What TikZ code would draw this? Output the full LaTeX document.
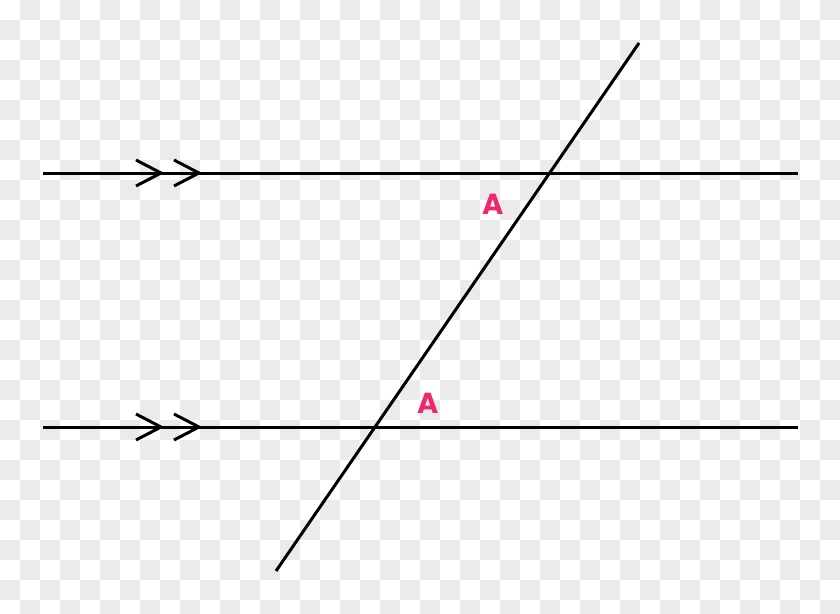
\documentclass[tikz,border=0pt]{standalone}
\usepackage{fontspec}
\setmainfont{Poppins}
\definecolor{checkgray}{RGB}{235,235,235}
\definecolor{anglepink}{RGB}{238,40,110}
\tikzset{
  lineblk/.style={line width=3pt, black},
  chevron/.style={line width=3pt, black, line join=miter},
  anglelbl/.style={text=anglepink, font=\bfseries\fontsize{29}{29}\selectfont, inner sep=0pt}
}
\begin{document}
\begin{tikzpicture}[x=1pt,y=-1pt]
\useasboundingbox (0,0) rectangle (840,613);
\fill[white] (0,0) rectangle (840,613);
\foreach \i in {0,...,41}{
  \foreach \j in {0,...,30}{
    \pgfmathtruncatemacro{\myparity}{mod(\i+\j,2)}
    \ifnum\myparity=1
      \fill[checkgray] (\i*20,\j*20) rectangle ++(20,20);
    \fi
  }
}
% lines
\coordinate (t1) at (43,173);
\coordinate (t2) at (798,173);
\coordinate (b1) at (43,427);
\coordinate (b2) at (798,427);
\coordinate (tr1) at (639,43);
\coordinate (tr2) at (276,571);
\draw[lineblk] (t1) -- (t2);
\draw[lineblk] (b1) -- (b2);
\draw[lineblk] (tr1) -- (tr2);
% chevrons
\foreach \y in {173,427}{
  \foreach \x in {161,199}{
    \draw[chevron] (\x-25,\y-13) -- (\x,\y) -- (\x-25,\y+13);
  }
}
\node[anglelbl] (a1) at (493,204) {A};
\node[anglelbl] (a2) at (428,403) {A};
\end{tikzpicture}
\end{document}
